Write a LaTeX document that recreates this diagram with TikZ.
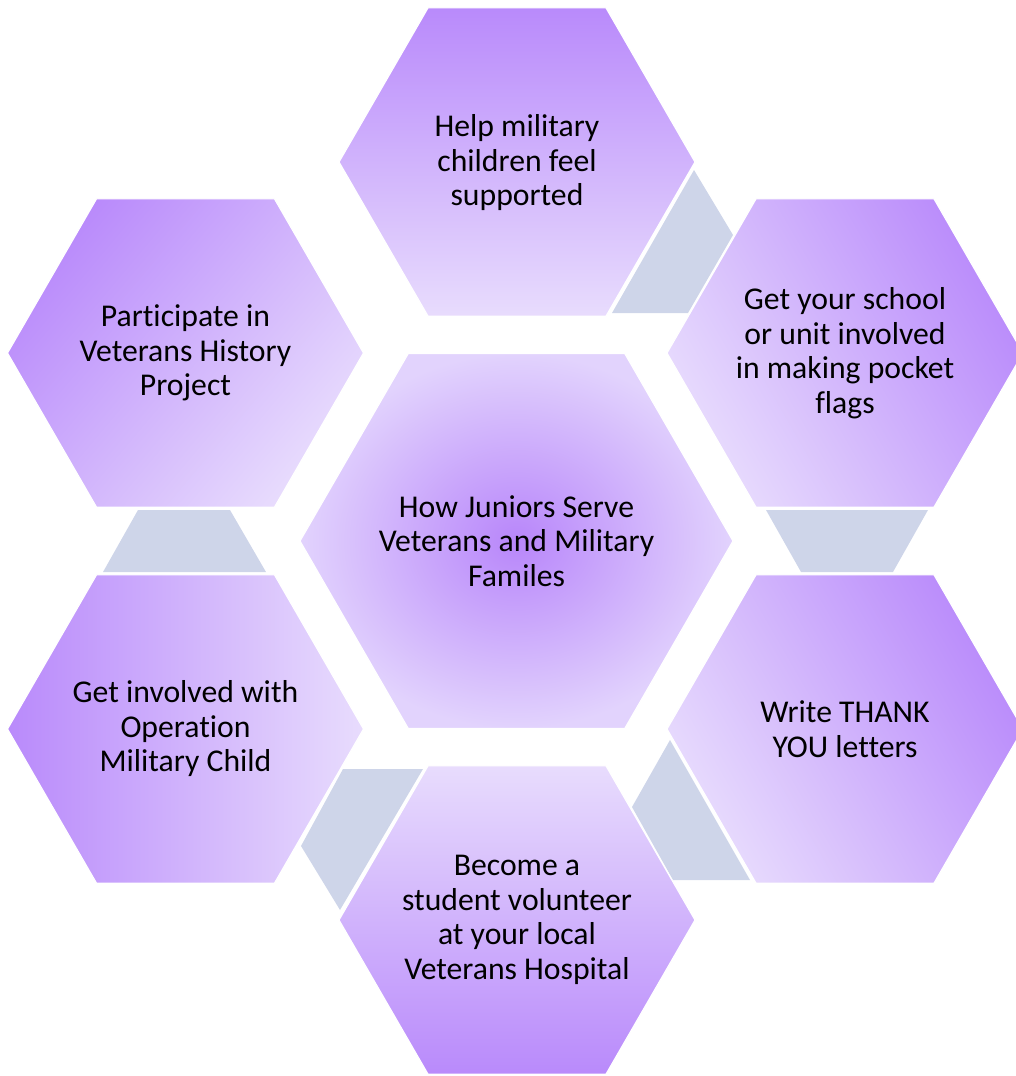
\documentclass[tikz,border=0pt]{standalone}
\usepackage{fontspec}
\setmainfont[RawFeature={-liga;-clig;-dlig;-calt}]{Carlito}
\usetikzlibrary{shadings}
\definecolor{hexdark}{RGB}{185,138,251}
\definecolor{hexlight}{RGB}{232,220,253}
\definecolor{cendark}{RGB}{184,134,250}
\definecolor{cenlight}{RGB}{226,211,253}
\definecolor{connfill}{RGB}{206,213,233}
\tikzset{
  hexlabel/.style={align=center, font=\fontsize{31.7}{34.5}\selectfont, text=black},
  connshape/.style={fill=connfill, draw=none},
  hexborder/.style={draw=white, line width=1.2pt},
}
% outer hexagon: center x, center y, shading angle
\newcommand{\outerhex}[3]{%
  \path[hexborder, shading=axis, top color=hexdark, bottom color=hexlight, shading angle=#3]
    (#1+178,#2) -- (#1+89,#2-154.15) -- (#1-89,#2-154.15) -- (#1-178,#2)
    -- (#1-89,#2+154.15) -- (#1+89,#2+154.15) -- cycle;}
\begin{document}
\begin{tikzpicture}[x=1pt,y=-1pt]
\useasboundingbox (0,0) rectangle (1016,1076);
% connectors
\path[connshape] (694,170) -- (733,235) -- (688,313) -- (612,313) -- cycle;
\path[connshape] (766,510) -- (928,510) -- (893,572) -- (801,572) -- cycle;
\path[connshape] (670,740) -- (632,807) -- (673,880) -- (750,880) -- cycle;
\path[connshape] (343,769) -- (423,769) -- (340,910) -- (301,846) -- cycle;
\path[connshape] (138,510) -- (230,510) -- (266,572) -- (103,572) -- cycle;
% hexagons
\outerhex{517}{162}{0}
\outerhex{845}{353}{-60}
\outerhex{845}{729}{-60}
\outerhex{517}{920}{180}
\outerhex{185.5}{729}{90}
\outerhex{185.5}{353}{50}
\path[hexborder, shading=radial, inner color=cendark, outer color=cenlight]
  (733,541) -- (624.75,353.5) -- (408.25,353.5) -- (300,541)
  -- (408.25,728.5) -- (624.75,728.5) -- cycle;
% labels
\node[hexlabel] (top) at (517,163) {Help military\\children feel\\supported};
\node[hexlabel] (topright) at (845,353) {Get your school\\or unit involved\\in making pocket\\flags};
\node[hexlabel] (botright) at (845,729) {Write THANK\\YOU letters};
\node[hexlabel] (bottom) at (517,920) {Become a\\student volunteer\\at your local\\Veterans Hospital};
\node[hexlabel] (botleft) at (185.5,729) {Get involved with\\Operation\\Military Child};
\node[hexlabel] (topleft) at (185.5,353) {Participate in\\Veterans History\\Project};
\node[hexlabel] (center) at (516.5,541) {How Juniors Serve\\Veterans and Military\\Familes};
\end{tikzpicture}
\end{document}
